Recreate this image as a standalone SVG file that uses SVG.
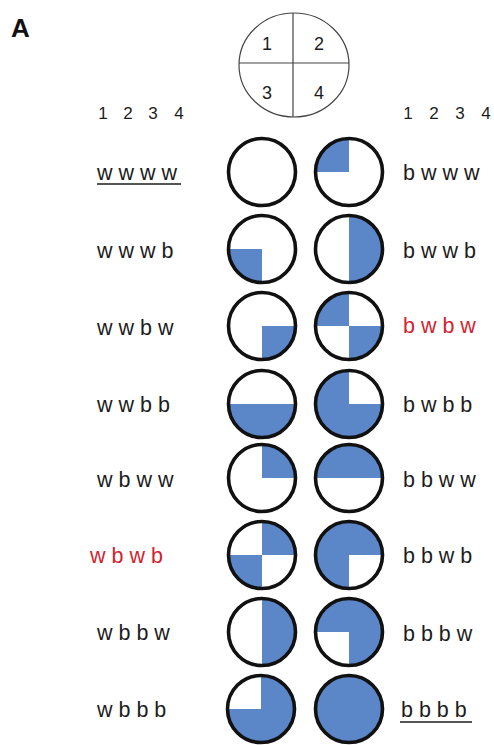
<svg xmlns="http://www.w3.org/2000/svg" width="494" height="745" viewBox="0 0 494 745">
<style>
.lbl{font-family:"Liberation Sans",Arial,sans-serif;font-size:21.5px;fill:#1c1c1c}
.red{fill:#d2232f}
.hd{font-family:"Liberation Sans",Arial,sans-serif;font-size:17px;fill:#1c1c1c;text-anchor:middle}
.key{font-family:"Liberation Sans",Arial,sans-serif;font-size:18px;fill:#1c1c1c;text-anchor:middle}
.ring{fill:none;stroke:#111;stroke-width:3.6}
.b{fill:#5b86c8}
.ul{stroke:#1c1c1c;stroke-width:1.6}
</style>
<defs>
<path id="q1" d="M0 0H-33.5A33.5 33.5 0 0 1 0 -33.5Z"/>
<path id="q2" d="M0 0V-33.5A33.5 33.5 0 0 1 33.5 0Z"/>
<path id="q3" d="M0 0V33.5A33.5 33.5 0 0 1 -33.5 0Z"/>
<path id="q4" d="M0 0H33.5A33.5 33.5 0 0 1 0 33.5Z"/>
<circle id="ring" r="33.5"/>
</defs>
<rect width="494" height="745" fill="#fff"/>
<text x="11" y="37" style="font-family:'Liberation Sans',Arial,sans-serif;font-size:26px;font-weight:bold;fill:#111">A</text>

<g id="key">
<ellipse cx="294" cy="65" rx="55" ry="52" fill="none" stroke="#444" stroke-width="1.2"/>
<line x1="293" y1="13" x2="293" y2="117" stroke="#444" stroke-width="1.2"/>
<line x1="239" y1="63" x2="349" y2="63" stroke="#444" stroke-width="1.2"/>
<text class="key" x="267" y="50">1</text>
<text class="key" x="319" y="50">2</text>
<text class="key" x="267" y="99">3</text>
<text class="key" x="319" y="99">4</text>
</g>

<g id="header-left">
<text class="hd" x="103" y="119">1</text><text class="hd" x="128" y="119">2</text><text class="hd" x="153" y="119">3</text><text class="hd" x="179" y="119">4</text>
</g>
<g id="header-right">
<text class="hd" x="408" y="119">1</text><text class="hd" x="434" y="119">2</text><text class="hd" x="460" y="119">3</text><text class="hd" x="486" y="119">4</text>
</g>

<g id="row1">
<text class="lbl" x="97" y="180">w w w w</text>
<line class="ul" x1="97" y1="184" x2="181" y2="184"/>
<g id="c1L" transform="translate(262,172)"><use href="#ring" class="ring"/></g>
<g id="c1R" transform="translate(349,172)"><use href="#q1" class="b"/><use href="#ring" class="ring"/></g>
<text class="lbl" x="403" y="180">b w w w</text>
</g>

<g id="row2">
<text class="lbl" x="97" y="258">w w w b</text>
<g id="c2L" transform="translate(262,249)"><use href="#q3" class="b"/><use href="#ring" class="ring"/></g>
<g id="c2R" transform="translate(349,249)"><use href="#q2" class="b"/><use href="#q4" class="b"/><use href="#ring" class="ring"/></g>
<text class="lbl" x="403" y="258">b w w b</text>
</g>

<g id="row3">
<text class="lbl" x="97" y="335">w w b w</text>
<g id="c3L" transform="translate(262,326)"><use href="#q4" class="b"/><use href="#ring" class="ring"/></g>
<g id="c3R" transform="translate(349,326)"><use href="#q1" class="b"/><use href="#q4" class="b"/><use href="#ring" class="ring"/></g>
<text class="lbl red" x="403" y="333">b w b w</text>
</g>

<g id="row4">
<text class="lbl" x="97" y="412">w w b b</text>
<g id="c4L" transform="translate(262,404)"><use href="#q3" class="b"/><use href="#q4" class="b"/><use href="#ring" class="ring"/></g>
<g id="c4R" transform="translate(349,404)"><use href="#q1" class="b"/><use href="#q3" class="b"/><use href="#q4" class="b"/><use href="#ring" class="ring"/></g>
<text class="lbl" x="403" y="412">b w b b</text>
</g>

<g id="row5">
<text class="lbl" x="97" y="487">w b w w</text>
<g id="c5L" transform="translate(262,478)"><use href="#q2" class="b"/><use href="#ring" class="ring"/></g>
<g id="c5R" transform="translate(349,478)"><use href="#q1" class="b"/><use href="#q2" class="b"/><use href="#ring" class="ring"/></g>
<text class="lbl" x="403" y="487">b b w w</text>
</g>

<g id="row6">
<text class="lbl red" x="90" y="563">w b w b</text>
<g id="c6L" transform="translate(262,555)"><use href="#q2" class="b"/><use href="#q3" class="b"/><use href="#ring" class="ring"/></g>
<g id="c6R" transform="translate(349,555)"><use href="#q1" class="b"/><use href="#q2" class="b"/><use href="#q3" class="b"/><use href="#ring" class="ring"/></g>
<text class="lbl" x="403" y="563">b b w b</text>
</g>

<g id="row7">
<text class="lbl" x="97" y="640">w b b w</text>
<g id="c7L" transform="translate(262,632)"><use href="#q2" class="b"/><use href="#q4" class="b"/><use href="#ring" class="ring"/></g>
<g id="c7R" transform="translate(349,632)"><use href="#q1" class="b"/><use href="#q2" class="b"/><use href="#q4" class="b"/><use href="#ring" class="ring"/></g>
<text class="lbl" x="403" y="641">b b b w</text>
</g>

<g id="row8">
<text class="lbl" x="97" y="717">w b b b</text>
<g id="c8L" transform="translate(261,709)"><use href="#q2" class="b"/><use href="#q3" class="b"/><use href="#q4" class="b"/><use href="#ring" class="ring"/></g>
<g id="c8R" transform="translate(349,709)"><use href="#q1" class="b"/><use href="#q2" class="b"/><use href="#q3" class="b"/><use href="#q4" class="b"/><use href="#ring" class="ring"/></g>
<text class="lbl" x="401" y="717">b b b b</text>
<line class="ul" x1="400" y1="722" x2="472" y2="722"/>
</g>
</svg>
